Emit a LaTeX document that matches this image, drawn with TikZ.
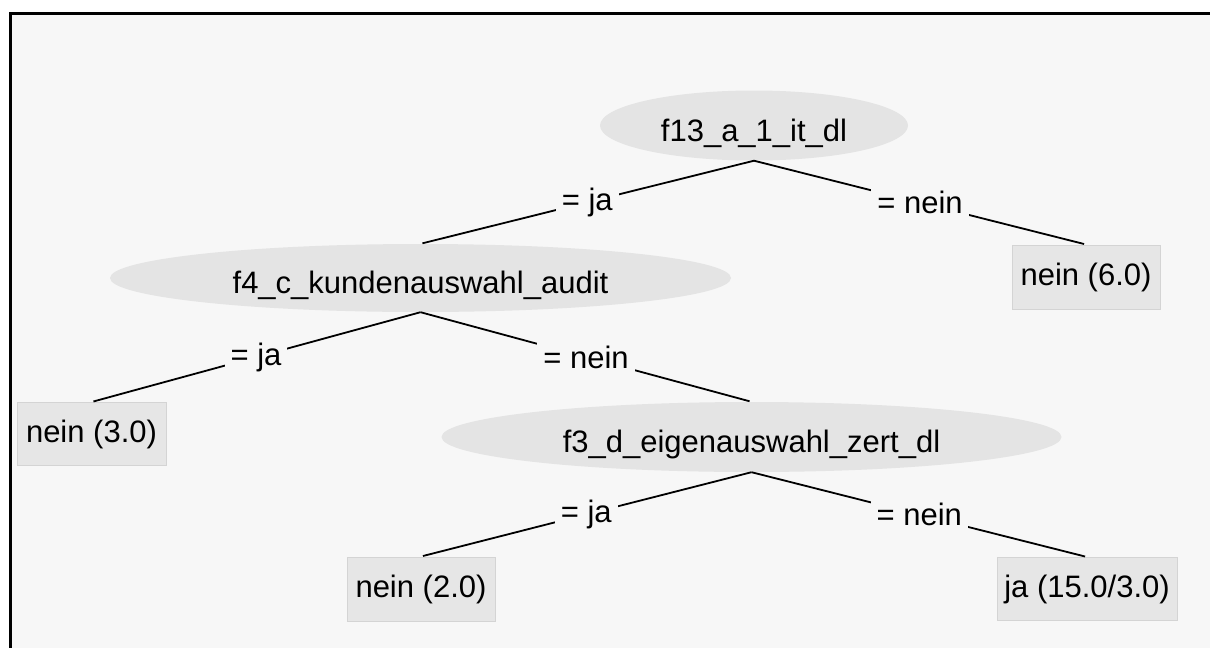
\documentclass[tikz,border=0pt]{standalone}
\usepackage{fontspec}
\setmainfont{Liberation Sans}
\usetikzlibrary{shapes.geometric}
\definecolor{panel}{RGB}{247,247,247}
\definecolor{nodefill}{RGB}{228,228,228}
\definecolor{leaffill}{RGB}{230,230,230}
\definecolor{leafedge}{RGB}{212,212,212}
\tikzset{
  base/.style={font=\fontsize{31}{36}\selectfont},
  innernode/.style={base, ellipse, fill=nodefill, inner sep=0pt, text height=36pt, text depth=5pt},
  leafnode/.style={base, rectangle, fill=leaffill, draw=leafedge, line width=1pt, inner sep=0pt, minimum height=63pt},
  branch/.style={line width=1.8pt, black, shorten >=2pt},
  lbl/.style={base, fill=panel, inner sep=6pt, midway}
}
\begin{document}
\begin{tikzpicture}[x=1pt,y=-1pt]
\useasboundingbox (0,0) rectangle (1210,648);
\fill[white] (0,0) rectangle (1210,648);
\fill[panel] (9,12) rectangle (1210,648);
\fill[black] (9,12) rectangle (1210,14.5);
\fill[black] (9,12) rectangle (11.5,648);

\node[innernode, minimum width=308pt, minimum height=70pt] (root) at (754,125.5) {f13\_a\_1\_it\_dl};
\node[innernode, minimum width=621pt, minimum height=68pt] (f4) at (420.5,278) {f4\_c\_kundenauswahl\_audit};
\node[innernode, minimum width=620pt, minimum height=70pt] (f3) at (751.5,437) {f3\_d\_eigenauswahl\_zert\_dl};
\node[leafnode, minimum width=148pt, minimum height=64pt] (l6) at (1086,277) {nein (6.0)};
\node[leafnode, minimum width=149pt] (l3) at (91.5,434) {nein (3.0)};
\node[leafnode, minimum width=148pt, minimum height=64pt] (l2) at (421,589) {nein (2.0)};
\node[leafnode, minimum width=180pt] (l15) at (1087,589) {ja (15.0/3.0)};

\draw[branch] (root.south) -- node[lbl] {= ja} (f4.north);
\draw[branch] (root.south) -- node[lbl] {= nein} (l6.north);
\draw[branch] (f4.south) -- node[lbl] {= ja} (l3.north);
\draw[branch] (f4.south) -- node[lbl] {= nein} (f3.north);
\draw[branch] (f3.south) -- node[lbl] {= ja} (l2.north);
\draw[branch] (f3.south) -- node[lbl] {= nein} (l15.north);
\end{tikzpicture}
\end{document}
